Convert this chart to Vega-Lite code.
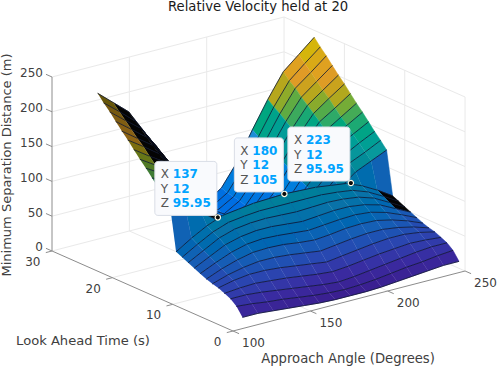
{"$schema":"https://vega.github.io/schema/vega-lite/v6.json","width":498,"height":368,"padding":0,"autosize":"none","background":"white","config":{"view":{"stroke":null}},
"datasets":{
"surface":[
{"X":250,"Y":25,"Z":240},{"X":240,"Y":25,"Z":221},{"X":230,"Y":25,"Z":202},{"X":220,"Y":25,"Z":168},{"X":210,"Y":25,"Z":130},{"X":200,"Y":25,"Z":89},{"X":190,"Y":25,"Z":58},{"X":180,"Y":25,"Z":43},{"X":170,"Y":25,"Z":58},{"X":160,"Y":25,"Z":89},{"X":150,"Y":25,"Z":130},{"X":140,"Y":25,"Z":168},{"X":130,"Y":25,"Z":202},{"X":120,"Y":25,"Z":221},{"X":110,"Y":25,"Z":240},
{"X":250,"Y":24,"Z":230},{"X":240,"Y":24,"Z":212},{"X":230,"Y":24,"Z":193},{"X":220,"Y":24,"Z":161},{"X":210,"Y":24,"Z":124},{"X":200,"Y":24,"Z":85},{"X":190,"Y":24,"Z":55},{"X":180,"Y":24,"Z":41},{"X":170,"Y":24,"Z":55},{"X":160,"Y":24,"Z":85},{"X":150,"Y":24,"Z":124},{"X":140,"Y":24,"Z":161},{"X":130,"Y":24,"Z":193},{"X":120,"Y":24,"Z":212},{"X":110,"Y":24,"Z":230},
{"X":250,"Y":23,"Z":221},{"X":240,"Y":23,"Z":203},{"X":230,"Y":23,"Z":186},{"X":220,"Y":23,"Z":155},{"X":210,"Y":23,"Z":119},{"X":200,"Y":23,"Z":82},{"X":190,"Y":23,"Z":53},{"X":180,"Y":23,"Z":40},{"X":170,"Y":23,"Z":53},{"X":160,"Y":23,"Z":82},{"X":150,"Y":23,"Z":119},{"X":140,"Y":23,"Z":155},{"X":130,"Y":23,"Z":186},{"X":120,"Y":23,"Z":203},{"X":110,"Y":23,"Z":221},
{"X":250,"Y":22,"Z":211},{"X":240,"Y":22,"Z":194},{"X":230,"Y":22,"Z":177},{"X":220,"Y":22,"Z":148},{"X":210,"Y":22,"Z":114},{"X":200,"Y":22,"Z":78},{"X":190,"Y":22,"Z":51},{"X":180,"Y":22,"Z":38},{"X":170,"Y":22,"Z":51},{"X":160,"Y":22,"Z":78},{"X":150,"Y":22,"Z":114},{"X":140,"Y":22,"Z":148},{"X":130,"Y":22,"Z":177},{"X":120,"Y":22,"Z":194},{"X":110,"Y":22,"Z":211},
{"X":250,"Y":21,"Z":201},{"X":240,"Y":21,"Z":185},{"X":230,"Y":21,"Z":169},{"X":220,"Y":21,"Z":141},{"X":210,"Y":21,"Z":109},{"X":200,"Y":21,"Z":74},{"X":190,"Y":21,"Z":48},{"X":180,"Y":21,"Z":36},{"X":170,"Y":21,"Z":48},{"X":160,"Y":21,"Z":74},{"X":150,"Y":21,"Z":109},{"X":140,"Y":21,"Z":141},{"X":130,"Y":21,"Z":169},{"X":120,"Y":21,"Z":185},{"X":110,"Y":21,"Z":201},
{"X":250,"Y":20,"Z":192},{"X":240,"Y":20,"Z":177},{"X":230,"Y":20,"Z":161},{"X":220,"Y":20,"Z":134},{"X":210,"Y":20,"Z":104},{"X":200,"Y":20,"Z":71},{"X":190,"Y":20,"Z":46},{"X":180,"Y":20,"Z":35},{"X":170,"Y":20,"Z":46},{"X":160,"Y":20,"Z":71},{"X":150,"Y":20,"Z":104},{"X":140,"Y":20,"Z":134},{"X":130,"Y":20,"Z":161},{"X":120,"Y":20,"Z":177},{"X":110,"Y":20,"Z":192},
{"X":250,"Y":19,"Z":182},{"X":240,"Y":19,"Z":167},{"X":230,"Y":19,"Z":153},{"X":220,"Y":19,"Z":127},{"X":210,"Y":19,"Z":98},{"X":200,"Y":19,"Z":67},{"X":190,"Y":19,"Z":44},{"X":180,"Y":19,"Z":33},{"X":170,"Y":19,"Z":44},{"X":160,"Y":19,"Z":67},{"X":150,"Y":19,"Z":98},{"X":140,"Y":19,"Z":127},{"X":130,"Y":19,"Z":153},{"X":120,"Y":19,"Z":167},{"X":110,"Y":19,"Z":182},
{"X":250,"Y":18,"Z":172},{"X":240,"Y":18,"Z":158},{"X":230,"Y":18,"Z":144},{"X":220,"Y":18,"Z":120},{"X":210,"Y":18,"Z":93},{"X":200,"Y":18,"Z":64},{"X":190,"Y":18,"Z":41},{"X":180,"Y":18,"Z":31},{"X":170,"Y":18,"Z":41},{"X":160,"Y":18,"Z":64},{"X":150,"Y":18,"Z":93},{"X":140,"Y":18,"Z":120},{"X":130,"Y":18,"Z":144},{"X":120,"Y":18,"Z":158},{"X":110,"Y":18,"Z":172},
{"X":250,"Y":17,"Z":163},{"X":240,"Y":17,"Z":150},{"X":230,"Y":17,"Z":137},{"X":220,"Y":17,"Z":114},{"X":210,"Y":17,"Z":88},{"X":200,"Y":17,"Z":60},{"X":190,"Y":17,"Z":39},{"X":180,"Y":17,"Z":29},{"X":170,"Y":17,"Z":39},{"X":160,"Y":17,"Z":60},{"X":150,"Y":17,"Z":88},{"X":140,"Y":17,"Z":114},{"X":130,"Y":17,"Z":137},{"X":120,"Y":17,"Z":150},{"X":110,"Y":17,"Z":163},
{"X":250,"Y":16,"Z":153},{"X":240,"Y":16,"Z":141},{"X":230,"Y":16,"Z":129},{"X":220,"Y":16,"Z":107},{"X":210,"Y":16,"Z":83},{"X":200,"Y":16,"Z":57},{"X":190,"Y":16,"Z":37},{"X":180,"Y":16,"Z":28},{"X":170,"Y":16,"Z":37},{"X":160,"Y":16,"Z":57},{"X":150,"Y":16,"Z":83},{"X":140,"Y":16,"Z":107},{"X":130,"Y":16,"Z":129},{"X":120,"Y":16,"Z":141},{"X":110,"Y":16,"Z":153},
{"X":250,"Y":15,"Z":143},{"X":240,"Y":15,"Z":132},{"X":230,"Y":15,"Z":120},{"X":220,"Y":15,"Z":100},{"X":210,"Y":15,"Z":77},{"X":200,"Y":15,"Z":53},{"X":190,"Y":15,"Z":34},{"X":180,"Y":15,"Z":26},{"X":170,"Y":15,"Z":34},{"X":160,"Y":15,"Z":53},{"X":150,"Y":15,"Z":77},{"X":140,"Y":15,"Z":100},{"X":130,"Y":15,"Z":120},{"X":120,"Y":15,"Z":132},{"X":110,"Y":15,"Z":143},
{"X":250,"Y":14,"Z":134},{"X":240,"Y":14,"Z":123},{"X":230,"Y":14,"Z":113},{"X":220,"Y":14,"Z":94},{"X":210,"Y":14,"Z":72},{"X":200,"Y":14,"Z":50},{"X":190,"Y":14,"Z":32},{"X":180,"Y":14,"Z":24},{"X":170,"Y":14,"Z":32},{"X":160,"Y":14,"Z":50},{"X":150,"Y":14,"Z":72},{"X":140,"Y":14,"Z":94},{"X":130,"Y":14,"Z":113},{"X":120,"Y":14,"Z":123},{"X":110,"Y":14,"Z":134},
{"X":250,"Y":13,"Z":124},{"X":240,"Y":13,"Z":114},{"X":230,"Y":13,"Z":104},{"X":220,"Y":13,"Z":87},{"X":210,"Y":13,"Z":67},{"X":200,"Y":13,"Z":46},{"X":190,"Y":13,"Z":30},{"X":180,"Y":13,"Z":22},{"X":170,"Y":13,"Z":30},{"X":160,"Y":13,"Z":46},{"X":150,"Y":13,"Z":67},{"X":140,"Y":13,"Z":87},{"X":130,"Y":13,"Z":104},{"X":120,"Y":13,"Z":114},{"X":110,"Y":13,"Z":124},
{"X":250,"Y":12,"Z":62},{"X":240,"Y":12,"Z":76},{"X":230,"Y":12,"Z":88},{"X":220,"Y":12,"Z":97},{"X":210,"Y":12,"Z":100},{"X":200,"Y":12,"Z":103},{"X":190,"Y":12,"Z":104},{"X":180,"Y":12,"Z":105},{"X":170,"Y":12,"Z":104},{"X":160,"Y":12,"Z":103},{"X":150,"Y":12,"Z":100},{"X":140,"Y":12,"Z":97},{"X":130,"Y":12,"Z":88},{"X":120,"Y":12,"Z":76},{"X":110,"Y":12,"Z":62},
{"X":250,"Y":11,"Z":58},{"X":240,"Y":11,"Z":71},{"X":230,"Y":11,"Z":83},{"X":220,"Y":11,"Z":91},{"X":210,"Y":11,"Z":94},{"X":200,"Y":11,"Z":96},{"X":190,"Y":11,"Z":96},{"X":180,"Y":11,"Z":96},{"X":170,"Y":11,"Z":96},{"X":160,"Y":11,"Z":96},{"X":150,"Y":11,"Z":94},{"X":140,"Y":11,"Z":91},{"X":130,"Y":11,"Z":83},{"X":120,"Y":11,"Z":71},{"X":110,"Y":11,"Z":58},
{"X":250,"Y":10,"Z":54},{"X":240,"Y":10,"Z":66},{"X":230,"Y":10,"Z":78},{"X":220,"Y":10,"Z":85},{"X":210,"Y":10,"Z":88},{"X":200,"Y":10,"Z":89},{"X":190,"Y":10,"Z":88},{"X":180,"Y":10,"Z":87},{"X":170,"Y":10,"Z":88},{"X":160,"Y":10,"Z":89},{"X":150,"Y":10,"Z":88},{"X":140,"Y":10,"Z":85},{"X":130,"Y":10,"Z":78},{"X":120,"Y":10,"Z":66},{"X":110,"Y":10,"Z":54},
{"X":250,"Y":9,"Z":50},{"X":240,"Y":9,"Z":61},{"X":230,"Y":9,"Z":72},{"X":220,"Y":9,"Z":78},{"X":210,"Y":9,"Z":81},{"X":200,"Y":9,"Z":81},{"X":190,"Y":9,"Z":79},{"X":180,"Y":9,"Z":77},{"X":170,"Y":9,"Z":79},{"X":160,"Y":9,"Z":81},{"X":150,"Y":9,"Z":81},{"X":140,"Y":9,"Z":78},{"X":130,"Y":9,"Z":72},{"X":120,"Y":9,"Z":61},{"X":110,"Y":9,"Z":50},
{"X":250,"Y":8,"Z":46},{"X":240,"Y":8,"Z":56},{"X":230,"Y":8,"Z":65},{"X":220,"Y":8,"Z":71},{"X":210,"Y":8,"Z":73},{"X":200,"Y":8,"Z":72},{"X":190,"Y":8,"Z":70},{"X":180,"Y":8,"Z":68},{"X":170,"Y":8,"Z":70},{"X":160,"Y":8,"Z":72},{"X":150,"Y":8,"Z":73},{"X":140,"Y":8,"Z":71},{"X":130,"Y":8,"Z":65},{"X":120,"Y":8,"Z":56},{"X":110,"Y":8,"Z":46},
{"X":250,"Y":7,"Z":42},{"X":240,"Y":7,"Z":51},{"X":230,"Y":7,"Z":58},{"X":220,"Y":7,"Z":63},{"X":210,"Y":7,"Z":64},{"X":200,"Y":7,"Z":63},{"X":190,"Y":7,"Z":60},{"X":180,"Y":7,"Z":58},{"X":170,"Y":7,"Z":60},{"X":160,"Y":7,"Z":63},{"X":150,"Y":7,"Z":64},{"X":140,"Y":7,"Z":63},{"X":130,"Y":7,"Z":58},{"X":120,"Y":7,"Z":51},{"X":110,"Y":7,"Z":42},
{"X":250,"Y":6,"Z":39},{"X":240,"Y":6,"Z":46},{"X":230,"Y":6,"Z":51},{"X":220,"Y":6,"Z":54},{"X":210,"Y":6,"Z":54},{"X":200,"Y":6,"Z":52},{"X":190,"Y":6,"Z":49},{"X":180,"Y":6,"Z":46},{"X":170,"Y":6,"Z":49},{"X":160,"Y":6,"Z":52},{"X":150,"Y":6,"Z":54},{"X":140,"Y":6,"Z":54},{"X":130,"Y":6,"Z":51},{"X":120,"Y":6,"Z":46},{"X":110,"Y":6,"Z":39},
{"X":250,"Y":5,"Z":37},{"X":240,"Y":5,"Z":42},{"X":230,"Y":5,"Z":45},{"X":220,"Y":5,"Z":45},{"X":210,"Y":5,"Z":43},{"X":200,"Y":5,"Z":40},{"X":190,"Y":5,"Z":37},{"X":180,"Y":5,"Z":34},{"X":170,"Y":5,"Z":37},{"X":160,"Y":5,"Z":40},{"X":150,"Y":5,"Z":43},{"X":140,"Y":5,"Z":45},{"X":130,"Y":5,"Z":45},{"X":120,"Y":5,"Z":42},{"X":110,"Y":5,"Z":37},
{"X":250,"Y":4,"Z":33},{"X":240,"Y":4,"Z":35},{"X":230,"Y":4,"Z":36},{"X":220,"Y":4,"Z":34},{"X":210,"Y":4,"Z":32},{"X":200,"Y":4,"Z":29},{"X":190,"Y":4,"Z":26},{"X":180,"Y":4,"Z":24},{"X":170,"Y":4,"Z":26},{"X":160,"Y":4,"Z":29},{"X":150,"Y":4,"Z":32},{"X":140,"Y":4,"Z":34},{"X":130,"Y":4,"Z":36},{"X":120,"Y":4,"Z":35},{"X":110,"Y":4,"Z":33},
{"X":250,"Y":3,"Z":29},{"X":240,"Y":3,"Z":29},{"X":230,"Y":3,"Z":27},{"X":220,"Y":3,"Z":24},{"X":210,"Y":3,"Z":21},{"X":200,"Y":3,"Z":18},{"X":190,"Y":3,"Z":15},{"X":180,"Y":3,"Z":13},{"X":170,"Y":3,"Z":15},{"X":160,"Y":3,"Z":18},{"X":150,"Y":3,"Z":21},{"X":140,"Y":3,"Z":24},{"X":130,"Y":3,"Z":27},{"X":120,"Y":3,"Z":29},{"X":110,"Y":3,"Z":29},
{"X":250,"Y":2,"Z":22},{"X":240,"Y":2,"Z":20},{"X":230,"Y":2,"Z":17},{"X":220,"Y":2,"Z":15},{"X":210,"Y":2,"Z":12},{"X":200,"Y":2,"Z":9},{"X":190,"Y":2,"Z":7},{"X":180,"Y":2,"Z":6},{"X":170,"Y":2,"Z":7},{"X":160,"Y":2,"Z":9},{"X":150,"Y":2,"Z":12},{"X":140,"Y":2,"Z":15},{"X":130,"Y":2,"Z":17},{"X":120,"Y":2,"Z":20},{"X":110,"Y":2,"Z":22},
{"X":250,"Y":1,"Z":10},{"X":240,"Y":1,"Z":10},{"X":230,"Y":1,"Z":8},{"X":220,"Y":1,"Z":6},{"X":210,"Y":1,"Z":4},{"X":200,"Y":1,"Z":2},{"X":190,"Y":1,"Z":1},{"X":180,"Y":1,"Z":1},{"X":170,"Y":1,"Z":1},{"X":160,"Y":1,"Z":2},{"X":150,"Y":1,"Z":4},{"X":140,"Y":1,"Z":6},{"X":130,"Y":1,"Z":8},{"X":120,"Y":1,"Z":10},{"X":110,"Y":1,"Z":10}
],
"grid":[
{"x0":100,"y0":30,"z0":50,"x1":250,"y1":30,"z1":50},{"x0":100,"y0":30,"z0":100,"x1":250,"y1":30,"z1":100},{"x0":100,"y0":30,"z0":150,"x1":250,"y1":30,"z1":150},{"x0":100,"y0":30,"z0":200,"x1":250,"y1":30,"z1":200},{"x0":100,"y0":30,"z0":250,"x1":250,"y1":30,"z1":250},
{"x0":250,"y0":0,"z0":50,"x1":250,"y1":30,"z1":50},{"x0":250,"y0":0,"z0":100,"x1":250,"y1":30,"z1":100},{"x0":250,"y0":0,"z0":150,"x1":250,"y1":30,"z1":150},{"x0":250,"y0":0,"z0":200,"x1":250,"y1":30,"z1":200},{"x0":250,"y0":0,"z0":250,"x1":250,"y1":30,"z1":250},
{"x0":150,"y0":30,"z0":0,"x1":150,"y1":30,"z1":250},{"x0":200,"y0":30,"z0":0,"x1":200,"y1":30,"z1":250},{"x0":250,"y0":30,"z0":0,"x1":250,"y1":30,"z1":250},
{"x0":250,"y0":0,"z0":0,"x1":250,"y1":0,"z1":250},{"x0":250,"y0":10,"z0":0,"x1":250,"y1":10,"z1":250},{"x0":250,"y0":20,"z0":0,"x1":250,"y1":20,"z1":250},
{"x0":150,"y0":0,"z0":0,"x1":150,"y1":30,"z1":0},{"x0":200,"y0":0,"z0":0,"x1":200,"y1":30,"z1":0},{"x0":250,"y0":0,"z0":0,"x1":250,"y1":30,"z1":0},
{"x0":100,"y0":10,"z0":0,"x1":250,"y1":10,"z1":0},{"x0":100,"y0":20,"z0":0,"x1":250,"y1":20,"z1":0},{"x0":100,"y0":30,"z0":0,"x1":250,"y1":30,"z1":0}
],
"axes":[
{"x0":100,"y0":30,"z0":0,"x1":100,"y1":30,"z1":250},{"x0":100,"y0":0,"z0":0,"x1":100,"y1":30,"z1":0},{"x0":100,"y0":0,"z0":0,"x1":250,"y1":0,"z1":0},
{"x0":100,"y0":30,"z0":0,"x1":100,"y1":31,"z1":0},{"x0":100,"y0":30,"z0":50,"x1":100,"y1":31,"z1":50},{"x0":100,"y0":30,"z0":100,"x1":100,"y1":31,"z1":100},{"x0":100,"y0":30,"z0":150,"x1":100,"y1":31,"z1":150},{"x0":100,"y0":30,"z0":200,"x1":100,"y1":31,"z1":200},{"x0":100,"y0":30,"z0":250,"x1":100,"y1":31,"z1":250},
{"x0":100,"y0":0,"z0":0,"x1":96,"y1":0,"z1":0},{"x0":100,"y0":10,"z0":0,"x1":96,"y1":10,"z1":0},{"x0":100,"y0":20,"z0":0,"x1":96,"y1":20,"z1":0},{"x0":100,"y0":30,"z0":0,"x1":96,"y1":30,"z1":0},
{"x0":100,"y0":0,"z0":0,"x1":100,"y1":-1,"z1":0},{"x0":150,"y0":0,"z0":0,"x1":150,"y1":-1,"z1":0},{"x0":200,"y0":0,"z0":0,"x1":200,"y1":-1,"z1":0},{"x0":250,"y0":0,"z0":0,"x1":250,"y1":-1,"z1":0}
],
"xticks":[{"X":100,"Y":0,"Z":0,"t":"100"},{"X":150,"Y":0,"Z":0,"t":"150"},{"X":200,"Y":0,"Z":0,"t":"200"},{"X":250,"Y":0,"Z":0,"t":"250"}],
"yticks":[{"X":100,"Y":0,"Z":0,"t":"0"},{"X":100,"Y":10,"Z":0,"t":"10"},{"X":100,"Y":20,"Z":0,"t":"20"},{"X":100,"Y":30,"Z":0,"t":"30"}],
"zticks":[{"X":100,"Y":30,"Z":0,"t":"0"},{"X":100,"Y":30,"Z":50,"t":"50"},{"X":100,"Y":30,"Z":100,"t":"100"},{"X":100,"Y":30,"Z":150,"t":"150"},{"X":100,"Y":30,"Z":200,"t":"200"},{"X":100,"Y":30,"Z":250,"t":"250"}],
"xtitle":[{"X":175,"Y":0,"Z":0,"t":"Approach Angle (Degrees)"}],
"ytitle":[{"X":100,"Y":15,"Z":0,"t":"Look Ahead Time (s)"}],
"ztitle":[{"X":100,"Y":30,"Z":125,"t":"Minimum Separation Distance (m)"}],
"title":[{"X":250,"Y":30,"Z":250,"t":"Relative Velocity held at 20"}],
"tips":[{"X":137,"Y":12,"Z":95.95},{"X":180,"Y":12,"Z":105},{"X":223,"Y":12,"Z":95.95}]
},
"encoding":{
"x":{"field":"sx","type":"quantitative","scale":{"domain":[0,498],"nice":false,"zero":false},"axis":null},
"y":{"field":"sy","type":"quantitative","scale":{"domain":[368,0],"nice":false,"zero":false},"axis":null}
},
"layer":[
{"data":{"name":"grid"},"transform":[{"calculate":"233+(datum.x0-100)*1.547-datum.y0*6.033","as":"sx"},{"calculate":"331-(datum.x0-100)*0.4-datum.y0*2.667-datum.z0*0.696","as":"sy"},{"calculate":"233+(datum.x1-100)*1.547-datum.y1*6.033","as":"sx2"},{"calculate":"331-(datum.x1-100)*0.4-datum.y1*2.667-datum.z1*0.696","as":"sy2"}],
"mark":{"type":"rule","color":"#e9e9e9","strokeWidth":1},"encoding":{"x2":{"field":"sx2"},"y2":{"field":"sy2"}}},
{"data":{"name":"axes"},"transform":[{"calculate":"233+(datum.x0-100)*1.547-datum.y0*6.033","as":"sx"},{"calculate":"331-(datum.x0-100)*0.4-datum.y0*2.667-datum.z0*0.696","as":"sy"},{"calculate":"233+(datum.x1-100)*1.547-datum.y1*6.033","as":"sx2"},{"calculate":"331-(datum.x1-100)*0.4-datum.y1*2.667-datum.z1*0.696","as":"sy2"}],
"mark":{"type":"rule","color":"#8c8c8c","strokeWidth":1},"encoding":{"x2":{"field":"sx2"},"y2":{"field":"sy2"}}},
{"data":{"name":"surface"},"transform":[
{"calculate":"[0,1,2,3,4,5]","as":"corner"},{"flatten":["corner"]},
{"calculate":"(datum.corner==0||datum.corner==3||datum.corner==4)?datum.X:datum.X-10","as":"cx"},
{"calculate":"(datum.corner==2||datum.corner==3)?datum.Y-1:datum.Y","as":"cy"},
{"calculate":"datum.corner>=4?'e':'c'","as":"kind"},
{"calculate":"datum.kind+'_'+datum.cx+'_'+datum.cy","as":"key"},
{"calculate":"datum.corner==4?0:(datum.corner==5?1:datum.corner)","as":"ord"},
{"joinaggregate":[{"op":"count","as":"n"},{"op":"mean","field":"Z","as":"mz"},{"op":"min","field":"Z","as":"lz"}],"groupby":["key"]},
{"filter":"datum.kind=='e'?datum.n==2:datum.n==4"},
{"calculate":"datum.cy==12?datum.lz:datum.mz","as":"base"},
{"calculate":"(datum.cy>=13&&datum.cx==110)?-datum.base:((datum.cy>=13&&datum.cx>=120&&datum.cx<=140)?-300:((datum.cx==240&&datum.cy>=9&&datum.cy<=11)?-300:((datum.cy>=13&&datum.cx>=150&&datum.cx<=200)?300+datum.base:datum.base)))","as":"tone"},
{"calculate":"233+(datum.X-100)*1.547-datum.Y*6.033","as":"sx"},
{"calculate":"331-(datum.X-100)*0.4-datum.Y*2.667-datum.Z*0.696","as":"sy"}],
"mark":{"type":"line","interpolate":"linear","strokeJoin":"round"},
"encoding":{
"detail":{"field":"key"},
"order":{"field":"ord","type":"quantitative"},
"fill":{"condition":{"test":"datum.kind=='e'","value":"transparent"},"field":"tone","type":"quantitative","legend":null,"scale":{"domain":[-300,-290,-240,-215,-190,-165,-140,-100,-50,-1,0,20,40,60,85,105,125,150,165,180,200,215,232,260,300,400],"range":["#040404","#141000","#4f4f08","#7a5a10","#8f6216","#5a7a20","#207a45","#0a6a70","#104a90","#20309a","#3a1d8c","#3a2aa0","#2a46b0","#1560b5","#0a72a8","#0a8294","#0a9a9c","#12a878","#55ab48","#b4a81e","#e39a28","#d9a818","#d2bc05","#d2bc05","#2a50e0","#108ad8"]}},
"stroke":{"condition":{"test":"datum.kind=='e'","value":"#0d1530"},"field":"tone","type":"quantitative","legend":null,"scale":{"domain":[-300,-290,-240,-215,-190,-165,-140,-100,-50,-1,0,20,40,60,85,105,125,150,165,180,200,215,232,260,300,400],"range":["#040404","#141000","#4f4f08","#7a5a10","#8f6216","#5a7a20","#207a45","#0a6a70","#104a90","#20309a","#3a1d8c","#3a2aa0","#2a46b0","#1560b5","#0a72a8","#0a8294","#0a9a9c","#12a878","#55ab48","#b4a81e","#e39a28","#d9a818","#d2bc05","#d2bc05","#2a50e0","#108ad8"]}},
"strokeWidth":{"condition":{"test":"datum.kind=='e'","value":0.8},"value":0.5}
}},
{"data":{"name":"tips"},"transform":[{"calculate":"233+(datum.X-100)*1.547-datum.Y*6.033","as":"px"},{"calculate":"331-(datum.X-100)*0.4-datum.Y*2.667-datum.Z*0.696","as":"py"},{"calculate":"datum.px-1","as":"sx2"},{"calculate":"datum.px-1-(datum.Z==105?49:62)","as":"sx"},{"calculate":"datum.py-2","as":"sy2"},{"calculate":"datum.py-56","as":"sy"}],
"mark":{"type":"rect","fill":"#f9fafd","stroke":"#d9dde6","strokeWidth":1,"cornerRadius":3},"encoding":{"x2":{"field":"sx2"},"y2":{"field":"sy2"}}},
{"data":{"name":"tips"},"transform":[{"calculate":"233+(datum.X-100)*1.547-datum.Y*6.033","as":"sx"},{"calculate":"331-(datum.X-100)*0.4-datum.Y*2.667-datum.Z*0.696","as":"sy"}],
"mark":{"type":"point","filled":true,"fill":"#0a0a0a","stroke":"#fbfbe8","strokeWidth":1.2,"opacity":1,"size":28}},
{"data":{"name":"tips"},"transform":[{"calculate":"233+(datum.X-100)*1.547-datum.Y*6.033","as":"px"},{"calculate":"331-(datum.X-100)*0.4-datum.Y*2.667-datum.Z*0.696","as":"py"},{"fold":["X","Y","Z"],"as":["k","v"]},{"calculate":"datum.px-1-(datum.Z==105?49:62)+6","as":"sx"},{"calculate":"datum.py-56+13+(datum.k=='X'?0:(datum.k=='Y'?14.5:29))","as":"sy"}],
"mark":{"type":"text","align":"left","baseline":"middle","font":"DejaVu Sans","fontSize":12,"color":"#555555"},"encoding":{"text":{"field":"k","type":"nominal"}}},
{"data":{"name":"tips"},"transform":[{"calculate":"233+(datum.X-100)*1.547-datum.Y*6.033","as":"px"},{"calculate":"331-(datum.X-100)*0.4-datum.Y*2.667-datum.Z*0.696","as":"py"},{"fold":["X","Y","Z"],"as":["k","v"]},{"calculate":"datum.px-1-(datum.Z==105?49:62)+18","as":"sx"},{"calculate":"datum.py-56+13+(datum.k=='X'?0:(datum.k=='Y'?14.5:29))","as":"sy"}],
"mark":{"type":"text","align":"left","baseline":"middle","font":"DejaVu Sans","fontSize":12,"fontWeight":"bold","color":"#00a3ff"},"encoding":{"text":{"field":"v","type":"nominal"}}},
{"data":{"name":"xticks"},"transform":[{"calculate":"233+(datum.X-100)*1.547-datum.Y*6.033","as":"sx"},{"calculate":"331-(datum.X-100)*0.4-datum.Y*2.667-datum.Z*0.696","as":"sy"}],
"mark":{"type":"text","align":"center","baseline":"middle","dx":20.5,"dy":12,"font":"DejaVu Sans","fontSize":12,"color":"#404040"},"encoding":{"text":{"field":"t"}}},
{"data":{"name":"yticks"},"transform":[{"calculate":"233+(datum.X-100)*1.547-datum.Y*6.033","as":"sx"},{"calculate":"331-(datum.X-100)*0.4-datum.Y*2.667-datum.Z*0.696","as":"sy"}],
"mark":{"type":"text","align":"right","baseline":"middle","dx":-11.5,"dy":11,"font":"DejaVu Sans","fontSize":12,"color":"#404040"},"encoding":{"text":{"field":"t"}}},
{"data":{"name":"zticks"},"transform":[{"calculate":"233+(datum.X-100)*1.547-datum.Y*6.033","as":"sx"},{"calculate":"331-(datum.X-100)*0.4-datum.Y*2.667-datum.Z*0.696","as":"sy"}],
"mark":{"type":"text","align":"right","baseline":"middle","dx":-9,"dy":-3.5,"font":"DejaVu Sans","fontSize":12,"color":"#404040"},"encoding":{"text":{"field":"t"}}},
{"data":{"name":"xtitle"},"transform":[{"calculate":"233+(datum.X-100)*1.547-datum.Y*6.033","as":"sx"},{"calculate":"331-(datum.X-100)*0.4-datum.Y*2.667-datum.Z*0.696","as":"sy"}],
"mark":{"type":"text","align":"center","baseline":"middle","dx":-1,"dy":58,"font":"DejaVu Sans","fontSize":13.2,"color":"#404040"},"encoding":{"text":{"field":"t"}}},
{"data":{"name":"ytitle"},"transform":[{"calculate":"233+(datum.X-100)*1.547-datum.Y*6.033","as":"sx"},{"calculate":"331-(datum.X-100)*0.4-datum.Y*2.667-datum.Z*0.696","as":"sy"}],
"mark":{"type":"text","align":"center","baseline":"middle","dx":-59.5,"dy":50,"font":"DejaVu Sans","fontSize":13.1,"color":"#404040"},"encoding":{"text":{"field":"t"}}},
{"data":{"name":"ztitle"},"transform":[{"calculate":"233+(datum.X-100)*1.547-datum.Y*6.033","as":"sx"},{"calculate":"331-(datum.X-100)*0.4-datum.Y*2.667-datum.Z*0.696","as":"sy"}],
"mark":{"type":"text","align":"center","baseline":"middle","angle":270,"dx":-1,"dy":-45,"font":"DejaVu Sans","fontSize":13,"color":"#404040"},"encoding":{"text":{"field":"t"}}},
{"data":{"name":"title"},"transform":[{"calculate":"233+(datum.X-100)*1.547-datum.Y*6.033","as":"sx"},{"calculate":"331-(datum.X-100)*0.4-datum.Y*2.667-datum.Z*0.696","as":"sy"}],
"mark":{"type":"text","align":"center","baseline":"middle","dx":-26,"dy":-10,"font":"DejaVu Sans","fontSize":13.2,"color":"#1a1a1a"},"encoding":{"text":{"field":"t"}}}
]}
